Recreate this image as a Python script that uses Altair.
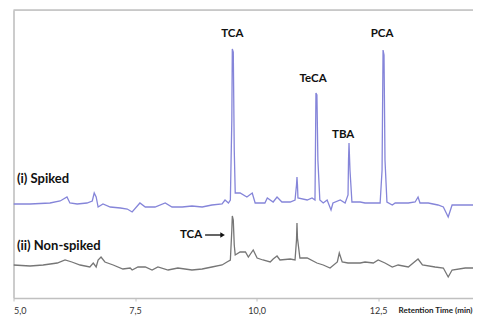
import altair as alt
import pandas as pd

# Spiked trace (i): retention time (min) and intensity (a.u.)
spiked_t = [5.00, 5.34, 5.75, 5.96, 6.10, 6.16, 6.31, 6.51, 6.62, 6.66, 6.70, 6.74, 6.84, 6.99,
            7.20, 7.34, 7.44, 7.60, 7.71, 7.91, 8.12, 8.26, 8.47, 8.67, 8.88, 9.08, 9.29, 9.35,
            9.42, 9.46, 9.49, 9.50, 9.52, 9.54, 9.56, 9.66, 9.80, 9.91, 9.97, 10.07, 10.17, 10.22,
            10.34, 10.42, 10.52, 10.69, 10.79, 10.82, 10.83, 10.84, 10.85, 11.04, 11.14, 11.20,
            11.21, 11.22, 11.24, 11.26, 11.30, 11.37, 11.45, 11.53, 11.57, 11.72, 11.82, 11.88,
            11.89, 11.90, 11.92, 11.96, 12.13, 12.23, 12.44, 12.54, 12.58, 12.60, 12.62, 12.64,
            12.68, 12.79, 12.85, 12.99, 13.12, 13.26, 13.32, 13.36, 13.53, 13.73, 13.84, 13.94,
            14.02, 14.23, 14.50, 14.62, 14.91, 15.00]
spiked_i = [94, 94, 95, 97, 101, 95, 94, 95, 97, 105, 101, 91, 94, 91,
            90, 89, 86, 95, 91, 91, 95, 91, 91, 92, 91, 93, 94, 98,
            95, 98, 178, 249, 246, 148, 105, 105, 101, 105, 95, 95, 95, 100,
            96, 101, 96, 96, 98, 113, 121, 113, 100, 98, 100, 98,
            148, 205, 203, 138, 98, 95, 98, 88, 95, 98, 95, 103,
            138, 155, 128, 96, 96, 95, 95, 95, 128, 248, 243, 138,
            96, 93, 95, 95, 95, 96, 101, 95, 95, 93, 91, 81,
            93, 93, 93, 92, 92, 92]

# Non-spiked trace (ii)
blank_t = [5.00, 5.34, 5.61, 5.90, 6.06, 6.20, 6.37, 6.57, 6.64, 6.70, 6.74, 6.80, 6.88, 7.05,
           7.25, 7.40, 7.44, 7.56, 7.71, 7.85, 7.97, 8.18, 8.38, 8.67, 8.88, 9.08, 9.29, 9.39,
           9.46, 9.49, 9.50, 9.52, 9.54, 9.56, 9.66, 9.77, 9.83, 9.93, 10.01, 10.13, 10.28, 10.34,
           10.42, 10.48, 10.69, 10.79, 10.82, 10.83, 10.84, 10.89, 11.04, 11.24, 11.37, 11.51,
           11.66, 11.70, 11.76, 11.88, 12.13, 12.23, 12.40, 12.50, 12.64, 12.79, 12.91, 13.12,
           13.32, 13.41, 13.67, 13.84, 13.94, 14.02, 14.29, 14.62, 15.00]
blank_i = [33, 32, 33, 35, 38, 36, 33, 31, 35, 31, 38, 41, 36, 33,
           29, 30, 28, 31, 31, 28, 31, 28, 30, 28, 29, 31, 33, 36,
           38, 68, 82, 78, 53, 43, 46, 46, 41, 48, 40, 38, 36, 39,
           42, 38, 39, 38, 58, 75, 60, 40, 40, 35, 33, 30,
           36, 45, 36, 35, 35, 36, 35, 38, 35, 31, 33, 31,
           39, 33, 31, 30, 21, 28, 30, 30, 30]

# Annotations
peak_labels = ["TCA", "TeCA", "TBA", "PCA"]
peak_label_t = [9.50, 11.16, 11.78, 12.58]
peak_label_i = [264, 219, 163, 264]

trace_labels = ["(i) Spiked", "(ii) Non-spiked"]
trace_label_t = [5.07, 5.07]
trace_label_i = [119, 52]

tick_values = [5.0, 7.5, 10.0, 12.5]

W, H = 459.5, 288

df = pd.concat([
    pd.DataFrame({"t": spiked_t, "i": spiked_i, "trace": "spiked"}),
    pd.DataFrame({"t": blank_t, "i": blank_i, "trace": "blank"}),
])

x_scale = alt.Scale(domain=[5, 14.45], nice=False, zero=False)
y_scale = alt.Scale(domain=[0, 288], nice=False, zero=False)

lines = alt.Chart(df).mark_line(strokeWidth=1.3, interpolate="linear", clip=True).encode(
    x=alt.X("t:Q", scale=x_scale,
            axis=alt.Axis(values=tick_values, grid=False,
                          labelExpr="replace(format(datum.value, '.1f'), '.', ',')",
                          labelFont="Lato", labelFontSize=9, labelColor="#333333",
                          labelPadding=5, tickSize=3, tickColor="#c0c0c0",
                          domainColor="#c0c0c0", domainWidth=1.5,
                          title="Retention Time (min)", titleFont="Lato",
                          titleFontSize=8, titleFontWeight="bold", titleColor="#222222",
                          titleAlign="right", titleAnchor="end", titleX=W - 1,
                          titleY=8, titleBaseline="top")),
    y=alt.Y("i:Q", scale=y_scale,
            axis=alt.Axis(labels=False, ticks=False, grid=False, title=None,
                          domainColor="#c0c0c0", domainWidth=1.5)),
    color=alt.Color("trace:N", scale=alt.Scale(domain=["spiked", "blank"],
                                               range=["#8585d9", "#767676"]),
                    legend=None),
    detail="trace:N",
)

top_line = alt.Chart(pd.DataFrame({"k": [0]})).mark_rule(
    color="#c0c0c0", strokeWidth=1.5
).encode(x=alt.value(0), x2=alt.value(W), y=alt.value(0))

peaks_df = pd.DataFrame({"t": peak_label_t, "i": peak_label_i, "label": peak_labels})
peak_text = alt.Chart(peaks_df).mark_text(
    font="Lato", fontSize=11.5, fontWeight="bold", color="#111111", baseline="middle"
).encode(x=alt.X("t:Q", scale=x_scale), y=alt.Y("i:Q", scale=y_scale), text="label:N")

trace_df = pd.DataFrame({"t": trace_label_t, "i": trace_label_i, "label": trace_labels})
trace_text = alt.Chart(trace_df).mark_text(
    font="Lato", fontSize=13, fontWeight="bold", color="#111111", align="left",
    baseline="middle"
).encode(x=alt.X("t:Q", scale=x_scale), y=alt.Y("i:Q", scale=y_scale), text="label:N")

arrow_label_df = pd.DataFrame({"t": [8.88], "i": [63], "label": ["TCA"]})
arrow_text = alt.Chart(arrow_label_df).mark_text(
    font="Lato", fontSize=11.5, fontWeight="bold", color="#111111", align="right",
    baseline="middle"
).encode(x=alt.X("t:Q", scale=x_scale), y=alt.Y("i:Q", scale=y_scale), text="label:N")

arrow_df = pd.DataFrame({"t": [8.94], "t2": [9.29], "i": [63]})
arrow_line = alt.Chart(arrow_df).mark_rule(color="#111111", strokeWidth=1.3).encode(
    x=alt.X("t:Q", scale=x_scale), x2="t2:Q", y=alt.Y("i:Q", scale=y_scale))
head_df = pd.DataFrame({"t": [9.30], "i": [63]})
arrow_head = alt.Chart(head_df).mark_point(
    shape="triangle-right", filled=True, color="#111111", size=28, opacity=1
).encode(x=alt.X("t:Q", scale=x_scale), y=alt.Y("i:Q", scale=y_scale))

chart = alt.layer(lines, top_line, peak_text, trace_text, arrow_text, arrow_line,
                  arrow_head).properties(
    width=W, height=H, autosize="none",
    padding={"left": 5.5, "top": 2, "right": 0, "bottom": 20},
).configure_view(stroke=None).configure(background="white")

chart.save("out.html", embed_options={"renderer": "svg", "actions": False})
